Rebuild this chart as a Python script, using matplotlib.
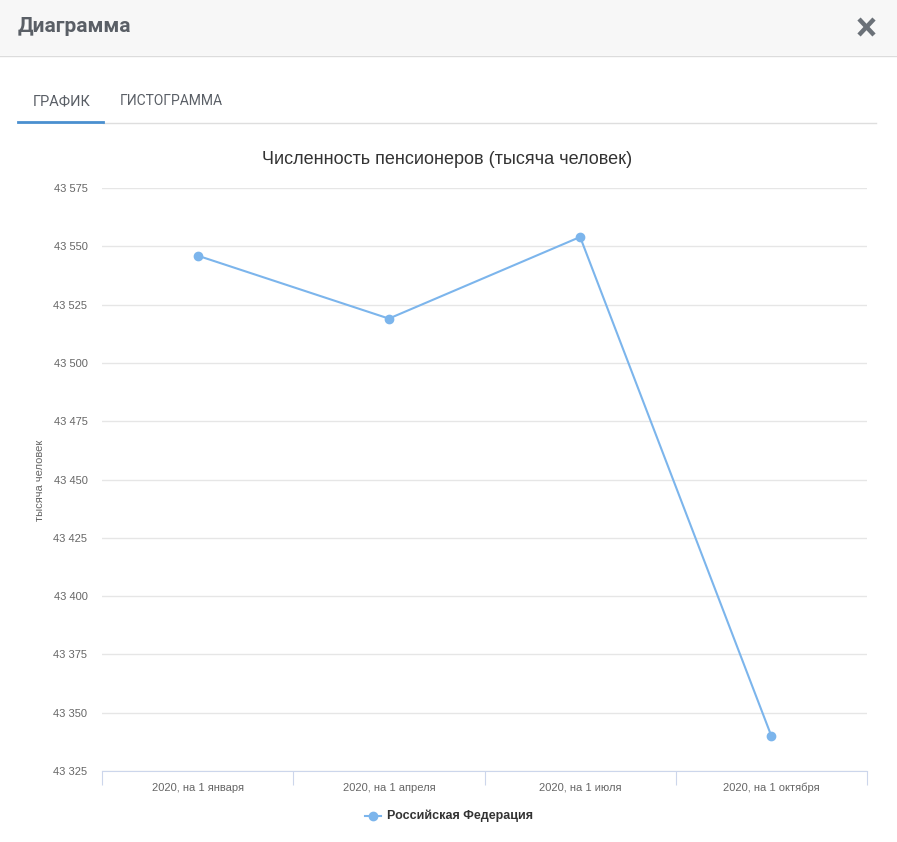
import matplotlib
matplotlib.use("Agg")
import matplotlib.pyplot as plt
from matplotlib.lines import Line2D
from matplotlib.patches import Rectangle
from matplotlib.ticker import FuncFormatter
from matplotlib.transforms import blended_transform_factory

# data
categories = ["2020, на 1 января", "2020, на 1 апреля", "2020, на 1 июля", "2020, на 1 октября"]
values = [43546, 43519, 43554, 43340]
series_name = "Российская Федерация"
y_ticks = [43325, 43350, 43375, 43400, 43425, 43450, 43475, 43500, 43525, 43550, 43575]

W, H = 897, 842
fig = plt.figure(figsize=(W / 100, H / 100), dpi=100)

# page decorations (pixel coords)
bg = fig.add_axes([0, 0, 1, 1])
bg.set_xlim(0, W)
bg.set_ylim(H, 0)
bg.axis("off")
bg.add_patch(Rectangle((0, 0), W, 55, color="#f7f7f7", lw=0))
bg.plot([0, W], [55.5, 55.5], color="#dcdcdc", lw=1)
bg.text(18, 26, "Диаграмма", fontsize=15, fontweight="bold", color="#5a5f66",
        family="Roboto", va="center", ha="left")
# close icon
bg.plot([859, 874], [19, 35], color="#6b7178", lw=3.2, solid_capstyle="butt")
bg.plot([859, 874], [35, 19], color="#6b7178", lw=3.2, solid_capstyle="butt")
bg.text(33, 101, "ГРАФИК", fontsize=10.5, color="#5a5f66", family="Roboto", va="center")
bg.text(120, 101, "ГИСТОГРАММА", fontsize=10, color="#5a5f66", family="Roboto", va="center")
bg.plot([103, 876], [122.5, 122.5], color="#dedede", lw=1)
bg.plot([18, 103], [122, 122], color="#4a8fcf", lw=2)
bg.text(447, 160, "Численность пенсионеров (тысяча человек)", fontsize=13, color="#333333",
        family="Liberation Sans", va="center", ha="center")
bg.text(40, 480, "тысяча человек", fontsize=8, color="#666666", family="Liberation Sans",
        rotation=90, va="center", ha="center")

# chart area
left, right, top, bottom = 102, 867, 188, 771
ax = fig.add_axes([left / W, 1 - bottom / H, (right - left) / W, (bottom - top) / H])
ax.set_xlim(-0.5, len(categories) - 0.5)
ax.set_ylim(y_ticks[0], y_ticks[-1])
ax.set_yticks(y_ticks)
ax.yaxis.set_major_formatter(FuncFormatter(lambda v, p: f"{int(v):,}".replace(",", " ")))
ax.grid(axis="y", color="#e6e6e6", lw=1)
ax.set_axisbelow(True)
for s in ["top", "right", "left"]:
    ax.spines[s].set_visible(False)
ax.spines["bottom"].set_color("#ccd6eb")
ax.tick_params(axis="y", length=0, pad=10.5, labelsize=8, labelcolor="#666666")
for lbl in ax.get_yticklabels():
    lbl.set_family("Liberation Sans")

xs = list(range(len(categories)))
ax.set_xticks([x - 0.5 for x in range(len(categories) + 1)])
ax.set_xticklabels([])
ax.tick_params(axis="x", which="major", length=10, color="#ccd6eb")

# category labels on a common baseline
tr = blended_transform_factory(ax.transData, ax.transAxes)
for x, c in zip(xs, categories):
    ax.text(x, -0.0335, c, transform=tr, fontsize=8, color="#666666",
            family="Liberation Sans", ha="center", va="baseline")

ax.plot(xs, values, color="#7cb5ec", lw=1.5, marker="o", markersize=6, clip_on=False)

# legend
bg.add_line(Line2D([365, 381], [816, 816], color="#7cb5ec", lw=1.5))
bg.plot(373, 816, "o", color="#7cb5ec", markersize=6)
bg.text(387, 816, series_name, fontsize=9, fontweight="bold", color="#333333",
        family="Liberation Sans", va="center", ha="left")

fig.savefig("out.png", dpi=100)
